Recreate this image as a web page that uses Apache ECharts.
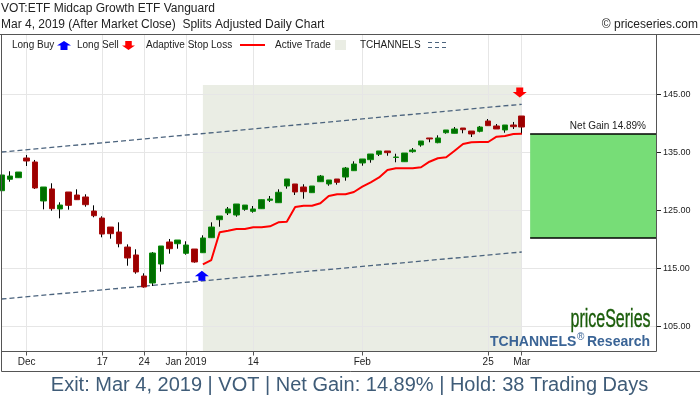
<!DOCTYPE html>
<html>
<head>
<meta charset="utf-8">
<script src="https://cdn.jsdelivr.net/npm/echarts@6/dist/echarts.min.js"></script>
<style>html,body{margin:0;padding:0;background:#fff}#main{width:700px;height:400px}</style>
</head>
<body>
<div id="main"></div>
<script>
// daily bars, index 0 = Nov 28 2018, last = Mar 1 2019
var opens = [128.24,130.21,130.48,133.88,133.19,126.47,128.54,125.09,128.02,127.50,127.16,124.74,123.53,121.98,121.12,118.53,117.16,113.53,112.33,115.60,119.40,119.10,117.45,118.19,117.55,120.14,123.24,124.40,124.05,125.03,124.69,125.14,126.59,126.17,129.05,129.40,128.88,127.90,129.79,129.40,130.26,130.60,131.69,133.02,133.59,134.52,135.09,133.97,133.24,134.97,136.12,137.33,136.52,138.24,138.14,139.05,138.53,138.48,140.26,139.40,138.71,139.57,141.12];
var closes = [130.95,130.77,131.46,133.36,128.71,128.88,125.14,125.77,125.72,126.69,125.83,123.93,120.77,120.83,119.10,116.64,114.23,111.64,117.50,118.71,118.24,119.74,118.88,115.95,120.09,121.98,123.88,125.09,125.95,125.77,125.09,126.69,126.81,127.97,130.26,128.02,128.07,129.05,130.77,130.09,129.69,132.15,132.84,133.71,134.57,135.09,134.80,134.05,134.74,135.26,136.81,137.16,137.33,138.71,138.88,138.76,138.02,139.22,139.45,138.88,139.57,139.28,139.22];
var lows = [128.24,129.79,130.48,132.50,128.54,125.03,124.79,123.48,124.97,126.69,125.48,123.66,120.21,119.97,118.48,115.31,113.93,111.52,111.81,114.28,117.38,118.24,117.21,115.83,117.55,120.14,122.03,124.05,123.76,124.79,124.45,125.14,126.30,126.17,128.59,127.50,126.86,127.90,129.79,129.10,129.28,129.97,131.69,132.55,133.07,134.22,134.27,133.14,133.24,134.79,135.83,136.59,136.42,138.07,138.14,138.14,137.50,138.31,139.45,138.88,138.24,138.88,137.96];
var highs = [130.95,131.59,131.46,134.40,133.54,128.88,129.52,126.24,128.02,128.48,127.62,125.72,123.83,121.98,122.79,118.99,118.14,114.00,117.67,118.71,119.92,119.74,119.52,118.19,120.55,122.79,123.88,125.43,125.95,125.77,125.60,126.69,127.33,128.48,130.26,129.40,129.35,129.05,130.95,130.09,130.26,132.33,133.31,133.71,134.57,135.09,135.09,134.62,134.74,135.60,136.81,137.33,137.79,138.71,139.22,139.05,138.53,139.40,140.60,139.74,139.57,140.09,141.12];
// adaptive stop loss, from the buy bar to the sell bar
var stopLoss = [115.55,116.29,121.07,121.34,121.64,121.64,121.93,121.93,122.10,122.79,122.90,125.43,125.66,125.66,126.07,127.33,127.62,127.62,128.02,128.93,129.69,130.52,131.81,132.10,132.10,132.10,132.28,133.24,133.83,134.00,135.14,136.29,136.59,136.64,136.64,137.55,137.67,138.02,138.07];
var tickIndex = [3,12,17,22,30,43,58,62];
var tickLabels = ['Dec','17','24','Jan 2019','14','Feb','25','Mar'];
var priceTicks = [105,115,125,135,145];
var channelUpper = [135.08,143.31];
var channelLower = [109.74,117.84];
var buyIndex = 24, sellIndex = 62, lastSlot = 78;
var buyMark = 113.76, sellMark = 145.34;
var shadeTop = 146.64;
var gainTop = 138.19, gainBottom = 120.26;
var priceMin = 100.69, priceMax = 155.34;
// the bar readings above came out one pixel low against the price grid
var readShift = 0.17;

var categories = [];
for (var i = 0; i <= lastSlot; i++) {
  var t = tickIndex.indexOf(i);
  categories.push(t >= 0 ? tickLabels[t] : '');
}
var isTick = function (i) { return tickIndex.indexOf(i) >= 0; };

var wicks = opens.map(function (o, i) {
  return [o + readShift, closes[i] + readShift, lows[i] + readShift, highs[i] + readShift];
});
var bodies = opens.map(function (o, i) {
  return [o + readShift, closes[i] + readShift, Math.min(o, closes[i]) + readShift, Math.max(o, closes[i]) + readShift];
});
var stopData = stopLoss.map(function (v, i) { return [buyIndex + i, v + readShift]; });

var upPath = 'path://M5,0 L10,5 L7.5,5 L7.5,9 L2.5,9 L2.5,5 L0,5 Z';
var downPath = 'path://M2.5,0 L7.5,0 L7.5,4 L10,4 L5,9 L0,4 L2.5,4 Z';
var FONT = '"Liberation Sans", Arial, sans-serif';
var DASH = '#4c647e';
var FRAME = '#555555';

function txt(x, y, text, size, extra) {
  var s = { x: x, y: y, text: text, fontSize: size, fontFamily: FONT, fill: '#222', verticalAlign: 'middle' };
  for (var k in extra) s[k] = extra[k];
  return { type: 'text', silent: true, z: 20, style: s };
}
function rule(x1, y1, x2, y2, color, width, dash) {
  return { type: 'line', silent: true, z: 20,
    shape: { x1: x1, y1: y1, x2: x2, y2: y2 },
    style: { stroke: color, lineWidth: width, lineDash: dash || null } };
}
function arrow(x, y, w, h, up, color) {
  var hw = w / 2, sw = w * 0.25, mid = h * 0.5;
  var pts = up
    ? [[x + hw, y], [x + w, y + mid], [x + hw + sw, y + mid], [x + hw + sw, y + h], [x + hw - sw, y + h], [x + hw - sw, y + mid], [x, y + mid]]
    : [[x + hw - sw, y], [x + hw + sw, y], [x + hw + sw, y + mid], [x + w, y + mid], [x + hw, y + h], [x, y + mid], [x + hw - sw, y + mid]];
  return { type: 'polygon', silent: true, z: 20, shape: { points: pts }, style: { fill: color } };
}

var chart = echarts.init(document.getElementById('main'));
var option = {
  animation: false,
  backgroundColor: '#fff',
  grid: { left: 1.5, top: 34.5, width: 654.5, height: 317, show: false },
  xAxis: {
    type: 'category',
    data: categories,
    boundaryGap: false,
    axisLine: { show: false },
    axisTick: { show: true, length: 4, interval: function (i) { return isTick(i); }, lineStyle: { color: FRAME } },
    axisLabel: { interval: function (i) { return isTick(i); }, color: '#222', fontSize: 10, fontFamily: FONT, margin: 6, hideOverlap: false },
    splitLine: { show: true, interval: function (i) { return isTick(i); }, lineStyle: { color: '#e6e6e6', width: 1 } }
  },
  yAxis: {
    type: 'value',
    position: 'right',
    min: priceMin,
    max: priceMax,
    axisLine: { show: false },
    axisTick: { show: true, length: 5, customValues: priceTicks, lineStyle: { color: '#222' } },
    axisLabel: { color: '#222', fontSize: 9, fontFamily: FONT, margin: 7, customValues: priceTicks, padding: [0, 0, 2, 0],
      formatter: function (v) { return v.toFixed(2); } },
    splitLine: { show: true, lineStyle: { color: '#e6e6e6', width: 1 } }
  },
  series: [
    { // active trade shade, under the grid lines
      type: 'line', data: [], silent: true,
      markArea: { silent: true, z: -1, itemStyle: { color: '#eaede4' },
        data: [[{ coord: [buyIndex, shadeTop] }, { coord: [sellIndex, priceMin] }]] }
    },
    { // net gain box
      type: 'line', data: [], silent: true,
      markArea: { silent: true, z: 1, itemStyle: { color: '#77dd77' },
        data: [[{ coord: [sellIndex + 1, gainTop] }, { coord: [lastSlot, gainBottom] }]] },
      markLine: { silent: true, z: 2, symbol: 'none', label: { show: false }, lineStyle: { color: '#000', type: 'solid', width: 1.5 },
        data: [[{ coord: [sellIndex + 1, gainTop] }, { coord: [lastSlot, gainTop] }],
               [{ coord: [sellIndex + 1, gainBottom] }, { coord: [lastSlot, gainBottom] }]] }
    },
    { type: 'line', data: [[0, channelUpper[0]], [sellIndex, channelUpper[1]]], showSymbol: false, z: 2, silent: true,
      lineStyle: { color: DASH, width: 1.3, type: [5, 3] } },
    { type: 'line', data: [[0, channelLower[0]], [sellIndex, channelLower[1]]], showSymbol: false, z: 2, silent: true,
      lineStyle: { color: DASH, width: 1.3, type: [5, 3] } },
    { type: 'candlestick', data: wicks, barWidth: 1, z: 3, silent: true,
      itemStyle: { color: '#000', color0: '#000', borderColor: '#000', borderColor0: '#000', borderWidth: 1 } },
    { type: 'candlestick', data: bodies, barWidth: 6, z: 4, silent: true,
      itemStyle: { color: '#006e00', color0: '#9c0000', borderColor: '#0b8a0b', borderColor0: '#a80d0d', borderWidth: 1 } },
    { type: 'line', data: stopData, showSymbol: false, z: 5, silent: true,
      lineStyle: { color: '#ff0000', width: 2 } },
    { type: 'scatter', data: [[buyIndex, buyMark]], symbol: upPath, symbolSize: [14, 10], symbolOffset: [-1, 0], z: 6, silent: true,
      itemStyle: { color: '#0000ff', opacity: 1 } },
    { type: 'scatter', data: [[sellIndex, sellMark]], symbol: downPath, symbolSize: [14, 10], symbolOffset: [-2, 0], z: 6, silent: true,
      itemStyle: { color: '#ff0000', opacity: 1 } }
  ],
  graphic: [
    // frame
    rule(0, 34.5, 700, 34.5, FRAME, 1),
    rule(1.5, 34.5, 1.5, 371.5, FRAME, 1),
    rule(1.5, 371.5, 700, 371.5, FRAME, 1),
    rule(1.5, 351.5, 656.5, 351.5, FRAME, 1),
    rule(656.5, 34.5, 656.5, 351.5, FRAME, 1),
    // header
    txt(1, 9, 'VOT:ETF Midcap Growth ETF Vanguard', 12),
    txt(1, 24.5, 'Mar 4, 2019 (After Market Close)  Splits Adjusted Daily Chart', 12),
    txt(698, 24.5, '\u00a9 priceseries.com', 12, { align: 'right' }),
    // legend
    txt(12, 45.5, 'Long Buy', 10),
    arrow(57, 41, 14, 9, true, '#0000ff'),
    txt(77, 45.5, 'Long Sell', 10),
    arrow(122, 41, 13, 9, false, '#ff0000'),
    txt(146, 45, 'Adaptive Stop Loss', 10),
    rule(240, 45, 265, 45, '#ff0000', 2),
    txt(275, 45, 'Active Trade', 10),
    { type: 'rect', silent: true, z: 20, shape: { x: 335, y: 40, width: 11, height: 10 }, style: { fill: '#eaede4' } },
    txt(360, 45, 'TCHANNELS', 10),
    rule(428, 42.5, 447, 42.5, DASH, 1, [4, 3]),
    rule(428, 47.5, 447, 47.5, DASH, 1, [4, 3]),
    // net gain, logo, footer
    txt(646, 126, 'Net Gain 14.89%', 10, { align: 'right' }),
    { type: 'text', silent: true, z: 20, x: 570.5, y: 320, scaleX: 0.64, style: { x: 0, y: 0, text: 'priceSeries', fontSize: 25, fontFamily: FONT, fill: '#1a5c0a', verticalAlign: 'middle', stroke: '#1a5c0a', lineWidth: 0.4 } },
    txt(490, 342, 'TCHANNELS', 14, { fontWeight: 'bold', fill: '#3a6496' }),
    txt(577, 337, '\u00ae', 10, { fill: '#3a6496' }),
    txt(650, 342, 'Research', 14, { align: 'right', fontWeight: 'bold', fill: '#3a6496' }),
    txt(349.5, 385, 'Exit: Mar 4, 2019 | VOT | Net Gain: 14.89% | Hold: 38 Trading Days', 20, { align: 'center', fill: '#3f5c78' })
  ]
};
chart.setOption(option);
</script>
</body>
</html>
